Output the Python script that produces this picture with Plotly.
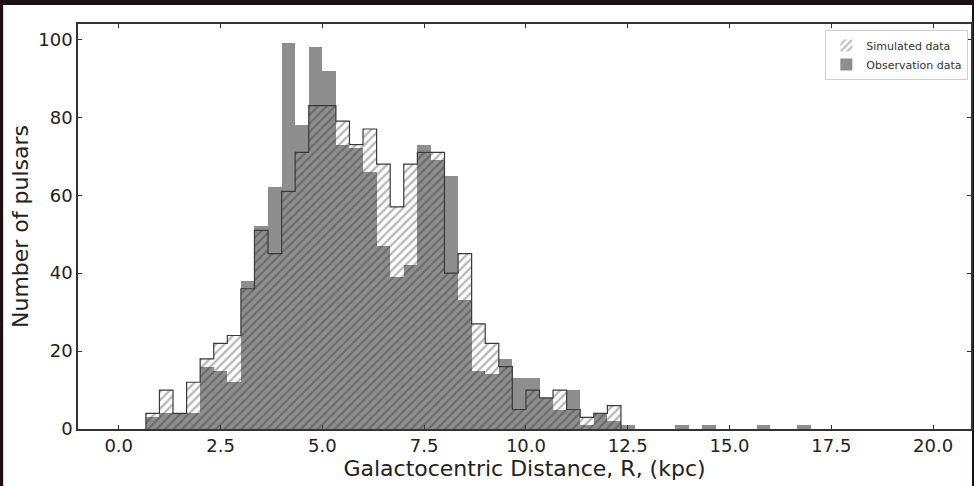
import numpy as np
import plotly.graph_objects as go

# 60 bins of 1/3 kpc between 0 and 20 kpc
bin_lo, bin_hi, n_bins = 0.0, 20.0, 60

sim_counts = [0, 0, 4, 10, 4, 12, 18, 22, 24, 36,
              51, 45, 61, 71, 83, 83, 79, 73, 77, 68,
              57, 68, 71, 71, 40, 45, 27, 22, 16, 5,
              10, 8, 10, 5, 3, 4, 6, 0, 0, 0,
              0, 0, 0, 0, 0, 0, 0, 0, 0, 0,
              0, 0, 0, 0, 0, 0, 0, 0, 0, 0]

obs_counts = [0, 0, 3, 4, 4, 4, 16, 15, 12, 38,
              52, 62, 99, 78, 98, 92, 73, 72, 66, 47,
              39, 42, 73, 69, 65, 33, 15, 14, 18, 13,
              13, 8, 5, 10, 1, 4, 2, 1, 0, 0,
              0, 1, 0, 1, 0, 0, 0, 1, 0, 0,
              1, 0, 0, 0, 0, 0, 0, 0, 0, 0]

x_ticks = [0.0, 2.5, 5.0, 7.5, 10.0, 12.5, 15.0, 17.5, 20.0]
y_ticks = [0, 20, 40, 60, 80, 100]

edges = np.linspace(bin_lo, bin_hi, n_bins + 1)
centers = 0.5 * (edges[:-1] + edges[1:])
width = edges[1] - edges[0]

# outline of the simulated histogram (step)
nz = [i for i, c in enumerate(sim_counts) if c > 0]
i0, i1 = nz[0], nz[-1] + 1
step_x = [edges[i0]] + list(edges[i0:i1 + 1])
step_y = [0] + list(sim_counts[i0:i1]) + [0]

fig = go.Figure()

fig.add_trace(go.Bar(x=centers, y=obs_counts, width=width, name="Observation data",
                     marker=dict(color="#8e8e8e", line=dict(width=0)), legendrank=2))

fig.add_trace(go.Bar(x=centers, y=sim_counts, width=width, name="Simulated data",
                     marker=dict(color="rgba(0,0,0,0)", line=dict(width=0),
                                 pattern=dict(shape="/", size=6, solidity=0.4,
                                              fgcolor="rgba(35,35,35,0.65)",
                                              bgcolor="rgba(0,0,0,0)", fillmode="overlay")),
                     legendrank=1))

fig.add_trace(go.Scatter(x=step_x, y=step_y, mode="lines", line_shape="hv",
                         line=dict(color="#3a3a3a", width=1.2), showlegend=False,
                         hoverinfo="skip"))

W, H = 974, 486
ml, mr, mt, mb = 78, 1, 24, 57
pw, ph = W - ml - mr, H - mt - mb

fig.update_layout(
    width=W, height=H,
    margin=dict(l=ml, r=mr, t=mt, b=mb, pad=0),
    barmode="overlay", bargap=0,
    paper_bgcolor="#1e1012", plot_bgcolor="white",
    font=dict(family="DejaVu Sans", color="#222"),
    showlegend=True,
    legend=dict(x=0.997, y=0.985, xanchor="right", yanchor="top",
                bgcolor="white", bordercolor="#d0d0d0", borderwidth=1,
                font=dict(size=11, color="#333"), tracegroupgap=0),
    shapes=[dict(type="rect", xref="paper", yref="paper", layer="below",
                 x0=(3 - ml) / pw, x1=(W - ml) / pw,
                 y0=-(mb) / ph, y1=(H - mb - 5) / ph,
                 fillcolor="white", line=dict(width=0))],
)

fig.update_xaxes(range=[-1.0, 20.93], tickvals=x_ticks,
                 ticktext=["%.1f" % v for v in x_ticks],
                 ticks="inside", ticklen=4, tickcolor="#333", tickwidth=1,
                 showline=True, linecolor="#333", linewidth=1.5, mirror="ticks",
                 showgrid=False, zeroline=False, tickfont=dict(size=18),
                 title=dict(text="Galactocentric Distance, R, (kpc)",
                            font=dict(size=22), standoff=2))

fig.update_yaxes(range=[0, 103.95], tickvals=y_ticks,
                 ticks="inside", ticklen=4, tickcolor="#333", tickwidth=1,
                 showline=True, linecolor="#333", linewidth=1.5, mirror="ticks",
                 showgrid=False, zeroline=False, tickfont=dict(size=18),
                 title=dict(text="Number of pulsars", font=dict(size=22), standoff=4))

fig.write_html("out.html", config={"displayModeBar": False},
               post_script="document.body.style.margin='0px';")
